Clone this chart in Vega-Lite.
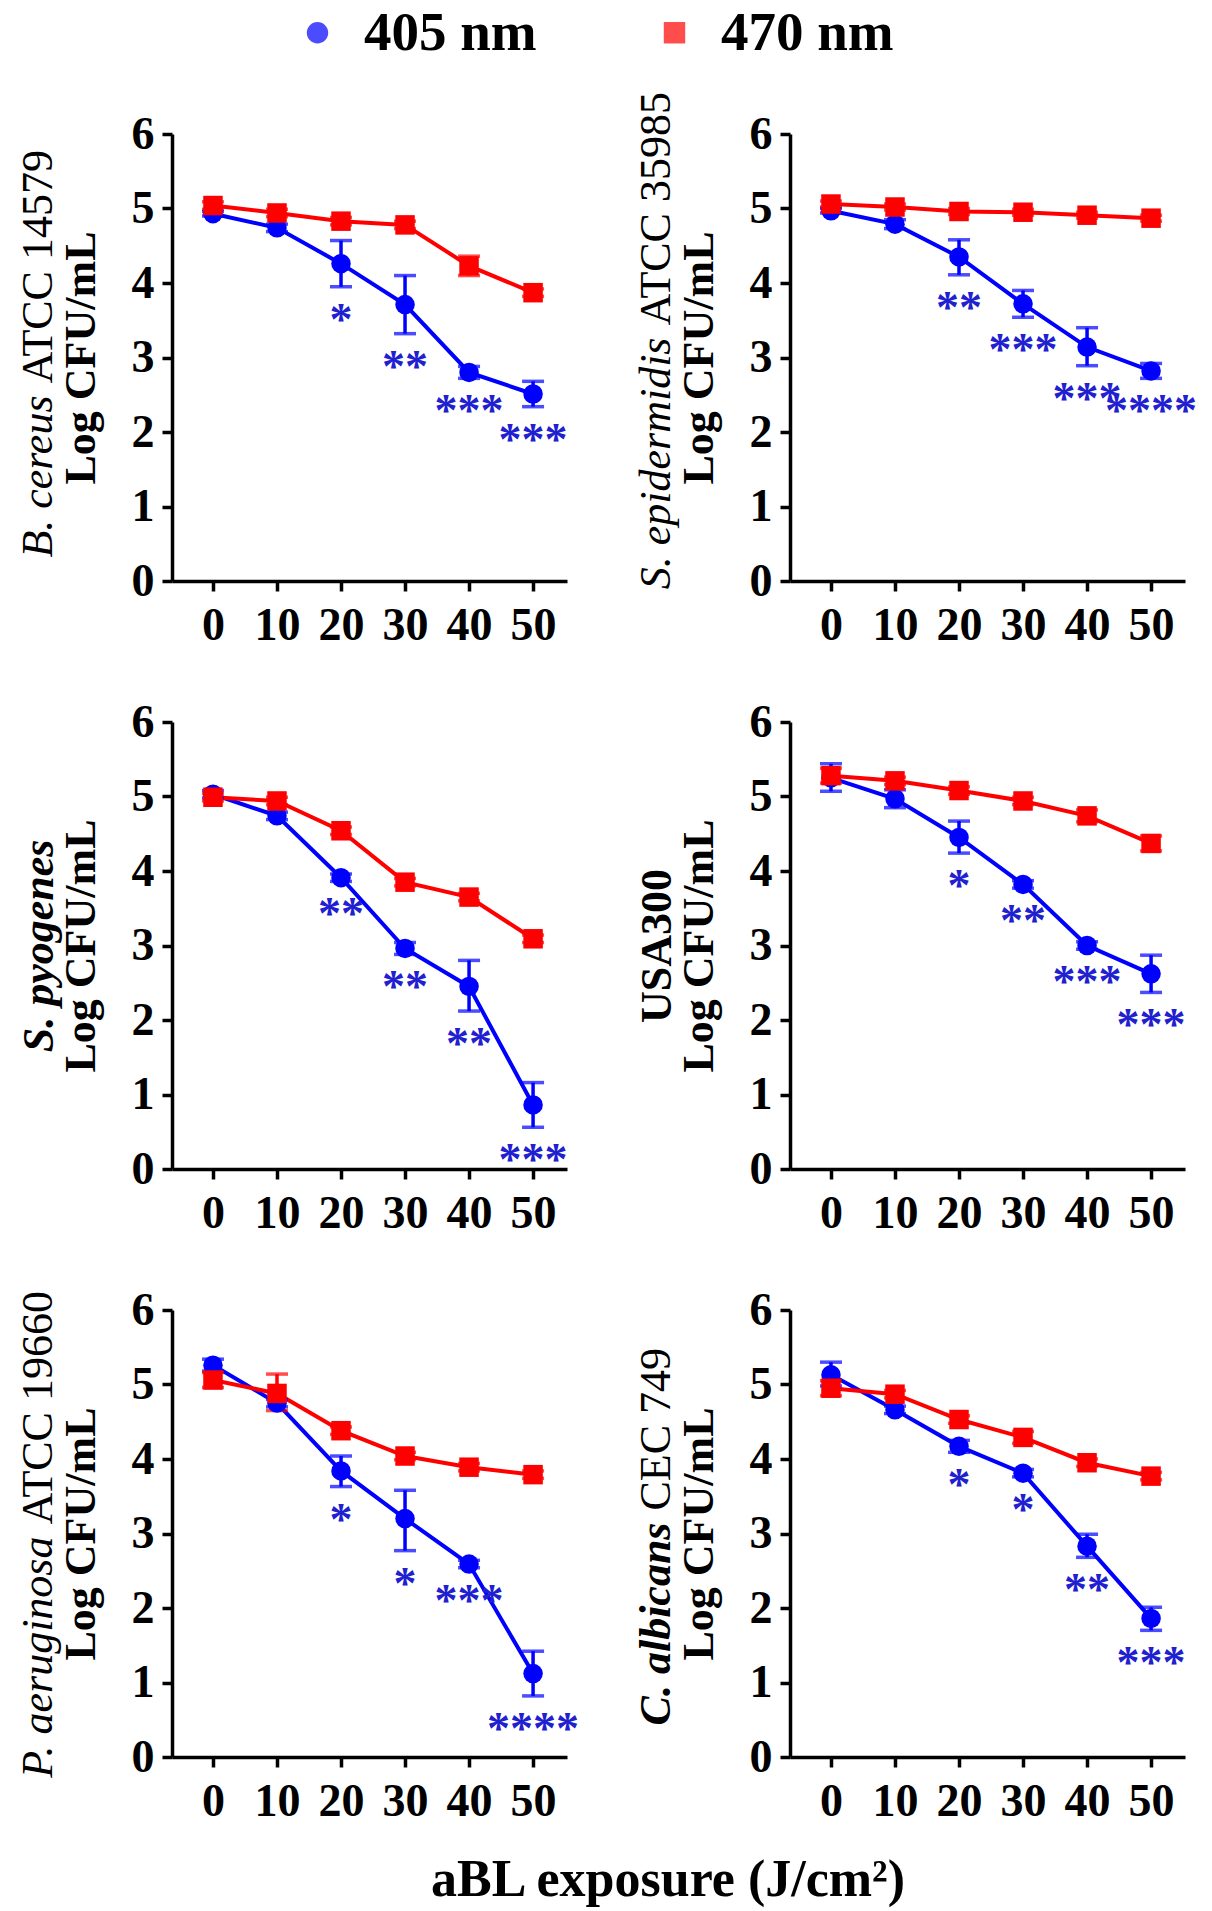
{
  "$schema": "https://vega.github.io/schema/vega-lite/v6.json",
  "background": "white",
  "padding": {"left": -21, "top": 5, "right": 5, "bottom": 5},
  "data": {"values": [
    {"panel":"P1","series":"405 nm","dose":0,"mean":4.93,"lo":4.90,"hi":4.96,"sig":""},
    {"panel":"P1","series":"405 nm","dose":10,"mean":4.74,"lo":4.69,"hi":4.79,"sig":""},
    {"panel":"P1","series":"405 nm","dose":20,"mean":4.26,"lo":3.95,"hi":4.57,"sig":"*"},
    {"panel":"P1","series":"405 nm","dose":30,"mean":3.71,"lo":3.32,"hi":4.10,"sig":"**"},
    {"panel":"P1","series":"405 nm","dose":40,"mean":2.80,"lo":2.72,"hi":2.88,"sig":"***"},
    {"panel":"P1","series":"405 nm","dose":50,"mean":2.51,"lo":2.34,"hi":2.68,"sig":"***"},
    {"panel":"P1","series":"470 nm","dose":0,"mean":5.04,"lo":4.99,"hi":5.09,"sig":""},
    {"panel":"P1","series":"470 nm","dose":10,"mean":4.94,"lo":4.89,"hi":4.99,"sig":""},
    {"panel":"P1","series":"470 nm","dose":20,"mean":4.83,"lo":4.78,"hi":4.88,"sig":""},
    {"panel":"P1","series":"470 nm","dose":30,"mean":4.78,"lo":4.73,"hi":4.83,"sig":""},
    {"panel":"P1","series":"470 nm","dose":40,"mean":4.23,"lo":4.10,"hi":4.36,"sig":""},
    {"panel":"P1","series":"470 nm","dose":50,"mean":3.87,"lo":3.82,"hi":3.92,"sig":""},
    {"panel":"P2","series":"405 nm","dose":0,"mean":4.97,"lo":4.94,"hi":5.00,"sig":""},
    {"panel":"P2","series":"405 nm","dose":10,"mean":4.79,"lo":4.73,"hi":4.85,"sig":""},
    {"panel":"P2","series":"405 nm","dose":20,"mean":4.35,"lo":4.11,"hi":4.58,"sig":"**"},
    {"panel":"P2","series":"405 nm","dose":30,"mean":3.72,"lo":3.54,"hi":3.90,"sig":"***"},
    {"panel":"P2","series":"405 nm","dose":40,"mean":3.14,"lo":2.89,"hi":3.40,"sig":"***"},
    {"panel":"P2","series":"405 nm","dose":50,"mean":2.82,"lo":2.72,"hi":2.92,"sig":"****"},
    {"panel":"P2","series":"470 nm","dose":0,"mean":5.06,"lo":5.02,"hi":5.10,"sig":""},
    {"panel":"P2","series":"470 nm","dose":10,"mean":5.02,"lo":4.98,"hi":5.06,"sig":""},
    {"panel":"P2","series":"470 nm","dose":20,"mean":4.96,"lo":4.92,"hi":5.00,"sig":""},
    {"panel":"P2","series":"470 nm","dose":30,"mean":4.95,"lo":4.91,"hi":4.99,"sig":""},
    {"panel":"P2","series":"470 nm","dose":40,"mean":4.91,"lo":4.87,"hi":4.95,"sig":""},
    {"panel":"P2","series":"470 nm","dose":50,"mean":4.87,"lo":4.83,"hi":4.91,"sig":""},
    {"panel":"P3","series":"405 nm","dose":0,"mean":5.03,"lo":4.98,"hi":5.08,"sig":""},
    {"panel":"P3","series":"405 nm","dose":10,"mean":4.74,"lo":4.69,"hi":4.79,"sig":""},
    {"panel":"P3","series":"405 nm","dose":20,"mean":3.91,"lo":3.86,"hi":3.96,"sig":"**"},
    {"panel":"P3","series":"405 nm","dose":30,"mean":2.96,"lo":2.88,"hi":3.04,"sig":"**"},
    {"panel":"P3","series":"405 nm","dose":40,"mean":2.45,"lo":2.12,"hi":2.80,"sig":"**"},
    {"panel":"P3","series":"405 nm","dose":50,"mean":0.86,"lo":0.56,"hi":1.16,"sig":"***"},
    {"panel":"P3","series":"470 nm","dose":0,"mean":4.99,"lo":4.94,"hi":5.04,"sig":""},
    {"panel":"P3","series":"470 nm","dose":10,"mean":4.94,"lo":4.89,"hi":4.99,"sig":""},
    {"panel":"P3","series":"470 nm","dose":20,"mean":4.54,"lo":4.49,"hi":4.59,"sig":""},
    {"panel":"P3","series":"470 nm","dose":30,"mean":3.85,"lo":3.80,"hi":3.90,"sig":""},
    {"panel":"P3","series":"470 nm","dose":40,"mean":3.65,"lo":3.60,"hi":3.70,"sig":""},
    {"panel":"P3","series":"470 nm","dose":50,"mean":3.09,"lo":3.04,"hi":3.14,"sig":""},
    {"panel":"P4","series":"405 nm","dose":0,"mean":5.25,"lo":5.07,"hi":5.44,"sig":""},
    {"panel":"P4","series":"405 nm","dose":10,"mean":4.97,"lo":4.85,"hi":5.09,"sig":""},
    {"panel":"P4","series":"405 nm","dose":20,"mean":4.45,"lo":4.24,"hi":4.67,"sig":"*"},
    {"panel":"P4","series":"405 nm","dose":30,"mean":3.82,"lo":3.77,"hi":3.87,"sig":"**"},
    {"panel":"P4","series":"405 nm","dose":40,"mean":3.00,"lo":2.95,"hi":3.05,"sig":"***"},
    {"panel":"P4","series":"405 nm","dose":50,"mean":2.62,"lo":2.37,"hi":2.87,"sig":"***"},
    {"panel":"P4","series":"470 nm","dose":0,"mean":5.28,"lo":5.18,"hi":5.38,"sig":""},
    {"panel":"P4","series":"470 nm","dose":10,"mean":5.21,"lo":5.16,"hi":5.26,"sig":""},
    {"panel":"P4","series":"470 nm","dose":20,"mean":5.08,"lo":5.03,"hi":5.13,"sig":""},
    {"panel":"P4","series":"470 nm","dose":30,"mean":4.94,"lo":4.89,"hi":4.99,"sig":""},
    {"panel":"P4","series":"470 nm","dose":40,"mean":4.74,"lo":4.66,"hi":4.82,"sig":""},
    {"panel":"P4","series":"470 nm","dose":50,"mean":4.37,"lo":4.27,"hi":4.47,"sig":""},
    {"panel":"P5","series":"405 nm","dose":0,"mean":5.26,"lo":5.18,"hi":5.34,"sig":""},
    {"panel":"P5","series":"405 nm","dose":10,"mean":4.75,"lo":4.70,"hi":4.80,"sig":""},
    {"panel":"P5","series":"405 nm","dose":20,"mean":3.84,"lo":3.63,"hi":4.04,"sig":"*"},
    {"panel":"P5","series":"405 nm","dose":30,"mean":3.20,"lo":2.77,"hi":3.58,"sig":"*"},
    {"panel":"P5","series":"405 nm","dose":40,"mean":2.59,"lo":2.54,"hi":2.64,"sig":"***"},
    {"panel":"P5","series":"405 nm","dose":50,"mean":1.12,"lo":0.82,"hi":1.42,"sig":"****"},
    {"panel":"P5","series":"470 nm","dose":0,"mean":5.06,"lo":4.96,"hi":5.16,"sig":""},
    {"panel":"P5","series":"470 nm","dose":10,"mean":4.88,"lo":4.65,"hi":5.14,"sig":""},
    {"panel":"P5","series":"470 nm","dose":20,"mean":4.38,"lo":4.33,"hi":4.43,"sig":""},
    {"panel":"P5","series":"470 nm","dose":30,"mean":4.04,"lo":3.99,"hi":4.09,"sig":""},
    {"panel":"P5","series":"470 nm","dose":40,"mean":3.89,"lo":3.84,"hi":3.94,"sig":""},
    {"panel":"P5","series":"470 nm","dose":50,"mean":3.79,"lo":3.74,"hi":3.84,"sig":""},
    {"panel":"P6","series":"405 nm","dose":0,"mean":5.13,"lo":4.98,"hi":5.30,"sig":""},
    {"panel":"P6","series":"405 nm","dose":10,"mean":4.66,"lo":4.61,"hi":4.71,"sig":""},
    {"panel":"P6","series":"405 nm","dose":20,"mean":4.17,"lo":4.09,"hi":4.25,"sig":"*"},
    {"panel":"P6","series":"405 nm","dose":30,"mean":3.81,"lo":3.76,"hi":3.86,"sig":"*"},
    {"panel":"P6","series":"405 nm","dose":40,"mean":2.83,"lo":2.68,"hi":2.99,"sig":"**"},
    {"panel":"P6","series":"405 nm","dose":50,"mean":1.86,"lo":1.70,"hi":2.01,"sig":"***"},
    {"panel":"P6","series":"470 nm","dose":0,"mean":4.95,"lo":4.85,"hi":5.05,"sig":""},
    {"panel":"P6","series":"470 nm","dose":10,"mean":4.87,"lo":4.82,"hi":4.92,"sig":""},
    {"panel":"P6","series":"470 nm","dose":20,"mean":4.53,"lo":4.48,"hi":4.58,"sig":""},
    {"panel":"P6","series":"470 nm","dose":30,"mean":4.29,"lo":4.21,"hi":4.37,"sig":""},
    {"panel":"P6","series":"470 nm","dose":40,"mean":3.95,"lo":3.90,"hi":4.00,"sig":""},
    {"panel":"P6","series":"470 nm","dose":50,"mean":3.77,"lo":3.72,"hi":3.82,"sig":""}
  ]},
  "title": {"text": "aBL exposure (J/cm²)", "orient": "bottom", "anchor": "middle", "frame": "group", "font": "Liberation Serif", "fontSize": 52, "fontWeight": "bold", "color": "#000", "offset": 31, "dx": 496},
  "columns": 2,
  "spacing": {"row": 141, "column": 223},
  "bounds": "flush",
  "resolve": {"scale": {"color": "shared", "shape": "shared"}},
  "concat": [
    {
      "width": 395, "height": 447,
      "transform": [{"filter": "datum.panel === 'P1'"}],
      "resolve": {"axis": {"x": "independent", "y": "independent"}},
      "layer": [
        {"mark": {"type": "line", "strokeWidth": 4},
         "encoding": {
           "x": {"field": "dose", "type": "quantitative", "scale": {"domain": [-6.4, 55.3], "nice": false, "zero": false}, "axis": {"values": [0,10,20,30,40,50], "format": "d", "grid": false, "domainColor": "#000", "domainWidth": 3.5, "tickColor": "#000", "tickWidth": 3.5, "tickSize": 10, "labelFont": "Liberation Serif", "labelFontWeight": "bold", "labelFontSize": 46, "labelColor": "#000", "labelPadding": 12, "labelOverlap": false, "labelFlush": false, "title": null}},
           "y": {"field": "mean", "type": "quantitative", "scale": {"domain": [0, 6], "nice": false}, "axis": {"orient": "left", "values": [0,1,2,3,4,5,6], "format": "d", "grid": false, "domainColor": "#000", "domainWidth": 3.5, "tickColor": "#000", "tickWidth": 3.5, "tickSize": 10, "labelFont": "Liberation Serif", "labelFontWeight": "bold", "labelFontSize": 46, "labelColor": "#000", "labelPadding": 8, "labelOverlap": false, "labelFlush": false, "title": "Log CFU/mL", "titleFont": "Liberation Serif", "titleFontWeight": "bold", "titleFontSize": 44, "titleColor": "#000", "titlePadding": 28}},
           "color": {"field": "series", "type": "nominal", "scale": {"domain": ["405 nm", "470 nm"], "range": ["#0000ff", "#ff0000"]}}
         }},
        {"mark": {"type": "errorbar", "ticks": true, "thickness": 3.5, "size": 22},
         "encoding": {
           "x": {"field": "dose", "type": "quantitative", "axis": null},
           "y": {"field": "lo", "type": "quantitative", "axis": null},
           "y2": {"field": "hi"},
           "color": {"field": "series", "type": "nominal"}
         }},
        {"mark": {"type": "point", "filled": true, "opacity": 1, "size": 380, "strokeWidth": 0},
         "encoding": {
           "x": {"field": "dose", "type": "quantitative", "axis": null},
           "y": {"field": "mean", "type": "quantitative", "axis": {"orient": "left", "labels": false, "ticks": false, "domain": false, "grid": false, "minExtent": 0, "maxExtent": 0, "translate": 38, "title": "B. cereus", "titleFont": "Liberation Serif", "titleFontStyle": "italic", "titleFontWeight": "normal", "titleFontSize": 44, "titleColor": "#000", "titleAlign": "right", "titlePadding": 149}},
           "color": {"field": "series", "type": "nominal", "legend": {"orient": "none", "legendX": 118, "legendY": -129, "direction": "horizontal", "title": null, "labelFont": "Liberation Serif", "labelFontWeight": "bold", "labelFontSize": 55, "labelColor": "#000", "labelLimit": 0, "symbolSize": 460, "labelOffset": 19, "columnPadding": 110, "symbolStrokeWidth": 0, "symbolOpacity": 1}},
           "shape": {"field": "series", "type": "nominal", "scale": {"domain": ["405 nm", "470 nm"], "range": ["circle", "square"]}, "legend": {"orient": "none", "legendX": 118, "legendY": -129, "direction": "horizontal", "title": null, "labelFont": "Liberation Serif", "labelFontWeight": "bold", "labelFontSize": 55, "labelColor": "#000", "labelLimit": 0, "symbolSize": 460, "labelOffset": 19, "columnPadding": 110, "symbolStrokeWidth": 0, "symbolOpacity": 1}}
         }},
        {"mark": {"type": "text", "font": "Liberation Serif", "fontWeight": "bold", "fontSize": 46, "color": "#2020d0", "baseline": "alphabetic", "align": "center", "dy": 48},
         "encoding": {
           "x": {"field": "dose", "type": "quantitative", "axis": null},
           "y": {"field": "lo", "type": "quantitative", "axis": {"orient": "left", "labels": false, "ticks": false, "domain": false, "grid": false, "minExtent": 0, "maxExtent": 0, "translate": 26, "title": "ATCC 14579", "titleFont": "Liberation Serif", "titleFontStyle": "normal", "titleFontWeight": "normal", "titleFontSize": 44, "titleColor": "#000", "titleAlign": "left", "titlePadding": 137}},
           "text": {"field": "sig"}
         }}
      ]
    },
    {
      "width": 395, "height": 447,
      "transform": [{"filter": "datum.panel === 'P2'"}],
      "resolve": {"axis": {"x": "independent", "y": "independent"}},
      "layer": [
        {"mark": {"type": "line", "strokeWidth": 4},
         "encoding": {
           "x": {"field": "dose", "type": "quantitative", "scale": {"domain": [-6.4, 55.3], "nice": false, "zero": false}, "axis": {"values": [0,10,20,30,40,50], "format": "d", "grid": false, "domainColor": "#000", "domainWidth": 3.5, "tickColor": "#000", "tickWidth": 3.5, "tickSize": 10, "labelFont": "Liberation Serif", "labelFontWeight": "bold", "labelFontSize": 46, "labelColor": "#000", "labelPadding": 12, "labelOverlap": false, "labelFlush": false, "title": null}},
           "y": {"field": "mean", "type": "quantitative", "scale": {"domain": [0, 6], "nice": false}, "axis": {"orient": "left", "values": [0,1,2,3,4,5,6], "format": "d", "grid": false, "domainColor": "#000", "domainWidth": 3.5, "tickColor": "#000", "tickWidth": 3.5, "tickSize": 10, "labelFont": "Liberation Serif", "labelFontWeight": "bold", "labelFontSize": 46, "labelColor": "#000", "labelPadding": 8, "labelOverlap": false, "labelFlush": false, "title": "Log CFU/mL", "titleFont": "Liberation Serif", "titleFontWeight": "bold", "titleFontSize": 44, "titleColor": "#000", "titlePadding": 28}},
           "color": {"field": "series", "type": "nominal"}
         }},
        {"mark": {"type": "errorbar", "ticks": true, "thickness": 3.5, "size": 22},
         "encoding": {
           "x": {"field": "dose", "type": "quantitative", "axis": null},
           "y": {"field": "lo", "type": "quantitative", "axis": null},
           "y2": {"field": "hi"},
           "color": {"field": "series", "type": "nominal"}
         }},
        {"mark": {"type": "point", "filled": true, "opacity": 1, "size": 380, "strokeWidth": 0},
         "encoding": {
           "x": {"field": "dose", "type": "quantitative", "axis": null},
           "y": {"field": "mean", "type": "quantitative", "axis": {"orient": "left", "labels": false, "ticks": false, "domain": false, "grid": false, "minExtent": 0, "maxExtent": 0, "translate": -20, "title": "S. epidermidis", "titleFont": "Liberation Serif", "titleFontStyle": "italic", "titleFontWeight": "normal", "titleFontSize": 44, "titleColor": "#000", "titleAlign": "right", "titlePadding": 91}},
           "color": {"field": "series", "type": "nominal"},
           "shape": {"field": "series", "type": "nominal"}
         }},
        {"mark": {"type": "text", "font": "Liberation Serif", "fontWeight": "bold", "fontSize": 46, "color": "#2020d0", "baseline": "alphabetic", "align": "center", "dy": 48},
         "encoding": {
           "x": {"field": "dose", "type": "quantitative", "axis": null},
           "y": {"field": "lo", "type": "quantitative", "axis": {"orient": "left", "labels": false, "ticks": false, "domain": false, "grid": false, "minExtent": 0, "maxExtent": 0, "translate": -32, "title": "ATCC 35985", "titleFont": "Liberation Serif", "titleFontStyle": "normal", "titleFontWeight": "normal", "titleFontSize": 44, "titleColor": "#000", "titleAlign": "left", "titlePadding": 79}},
           "text": {"field": "sig"}
         }}
      ]
    },
    {
      "width": 395, "height": 447,
      "transform": [{"filter": "datum.panel === 'P3'"}],
      "resolve": {"axis": {"x": "independent", "y": "independent"}},
      "layer": [
        {"mark": {"type": "line", "strokeWidth": 4},
         "encoding": {
           "x": {"field": "dose", "type": "quantitative", "scale": {"domain": [-6.4, 55.3], "nice": false, "zero": false}, "axis": {"values": [0,10,20,30,40,50], "format": "d", "grid": false, "domainColor": "#000", "domainWidth": 3.5, "tickColor": "#000", "tickWidth": 3.5, "tickSize": 10, "labelFont": "Liberation Serif", "labelFontWeight": "bold", "labelFontSize": 46, "labelColor": "#000", "labelPadding": 12, "labelOverlap": false, "labelFlush": false, "title": null}},
           "y": {"field": "mean", "type": "quantitative", "scale": {"domain": [0, 6], "nice": false}, "axis": {"orient": "left", "values": [0,1,2,3,4,5,6], "format": "d", "grid": false, "domainColor": "#000", "domainWidth": 3.5, "tickColor": "#000", "tickWidth": 3.5, "tickSize": 10, "labelFont": "Liberation Serif", "labelFontWeight": "bold", "labelFontSize": 46, "labelColor": "#000", "labelPadding": 8, "labelOverlap": false, "labelFlush": false, "title": "Log CFU/mL", "titleFont": "Liberation Serif", "titleFontWeight": "bold", "titleFontSize": 44, "titleColor": "#000", "titlePadding": 28}},
           "color": {"field": "series", "type": "nominal"}
         }},
        {"mark": {"type": "errorbar", "ticks": true, "thickness": 3.5, "size": 22},
         "encoding": {
           "x": {"field": "dose", "type": "quantitative", "axis": null},
           "y": {"field": "lo", "type": "quantitative", "axis": null},
           "y2": {"field": "hi"},
           "color": {"field": "series", "type": "nominal"}
         }},
        {"mark": {"type": "point", "filled": true, "opacity": 1, "size": 380, "strokeWidth": 0},
         "encoding": {
           "x": {"field": "dose", "type": "quantitative", "axis": null},
           "y": {"field": "mean", "type": "quantitative", "axis": {"orient": "left", "labels": false, "ticks": false, "domain": false, "grid": false, "minExtent": 0, "maxExtent": 0, "title": "S. pyogenes", "titleFont": "Liberation Serif", "titleFontStyle": "italic", "titleFontWeight": "bold", "titleFontSize": 44, "titleColor": "#000", "titlePadding": 111}},
           "color": {"field": "series", "type": "nominal"},
           "shape": {"field": "series", "type": "nominal"}
         }},
        {"mark": {"type": "text", "font": "Liberation Serif", "fontWeight": "bold", "fontSize": 46, "color": "#2020d0", "baseline": "alphabetic", "align": "center", "dy": 48},
         "encoding": {
           "x": {"field": "dose", "type": "quantitative", "axis": null},
           "y": {"field": "lo", "type": "quantitative", "axis": null},
           "text": {"field": "sig"}
         }}
      ]
    },
    {
      "width": 395, "height": 447,
      "transform": [{"filter": "datum.panel === 'P4'"}],
      "resolve": {"axis": {"x": "independent", "y": "independent"}},
      "layer": [
        {"mark": {"type": "line", "strokeWidth": 4},
         "encoding": {
           "x": {"field": "dose", "type": "quantitative", "scale": {"domain": [-6.4, 55.3], "nice": false, "zero": false}, "axis": {"values": [0,10,20,30,40,50], "format": "d", "grid": false, "domainColor": "#000", "domainWidth": 3.5, "tickColor": "#000", "tickWidth": 3.5, "tickSize": 10, "labelFont": "Liberation Serif", "labelFontWeight": "bold", "labelFontSize": 46, "labelColor": "#000", "labelPadding": 12, "labelOverlap": false, "labelFlush": false, "title": null}},
           "y": {"field": "mean", "type": "quantitative", "scale": {"domain": [0, 6], "nice": false}, "axis": {"orient": "left", "values": [0,1,2,3,4,5,6], "format": "d", "grid": false, "domainColor": "#000", "domainWidth": 3.5, "tickColor": "#000", "tickWidth": 3.5, "tickSize": 10, "labelFont": "Liberation Serif", "labelFontWeight": "bold", "labelFontSize": 46, "labelColor": "#000", "labelPadding": 8, "labelOverlap": false, "labelFlush": false, "title": "Log CFU/mL", "titleFont": "Liberation Serif", "titleFontWeight": "bold", "titleFontSize": 44, "titleColor": "#000", "titlePadding": 28}},
           "color": {"field": "series", "type": "nominal"}
         }},
        {"mark": {"type": "errorbar", "ticks": true, "thickness": 3.5, "size": 22},
         "encoding": {
           "x": {"field": "dose", "type": "quantitative", "axis": null},
           "y": {"field": "lo", "type": "quantitative", "axis": null},
           "y2": {"field": "hi"},
           "color": {"field": "series", "type": "nominal"}
         }},
        {"mark": {"type": "point", "filled": true, "opacity": 1, "size": 380, "strokeWidth": 0},
         "encoding": {
           "x": {"field": "dose", "type": "quantitative", "axis": null},
           "y": {"field": "mean", "type": "quantitative", "axis": {"orient": "left", "labels": false, "ticks": false, "domain": false, "grid": false, "minExtent": 0, "maxExtent": 0, "title": "USA300", "titleFont": "Liberation Serif", "titleFontStyle": "normal", "titleFontWeight": "bold", "titleFontSize": 44, "titleColor": "#000", "titlePadding": 111}},
           "color": {"field": "series", "type": "nominal"},
           "shape": {"field": "series", "type": "nominal"}
         }},
        {"mark": {"type": "text", "font": "Liberation Serif", "fontWeight": "bold", "fontSize": 46, "color": "#2020d0", "baseline": "alphabetic", "align": "center", "dy": 48},
         "encoding": {
           "x": {"field": "dose", "type": "quantitative", "axis": null},
           "y": {"field": "lo", "type": "quantitative", "axis": null},
           "text": {"field": "sig"}
         }}
      ]
    },
    {
      "width": 395, "height": 447,
      "transform": [{"filter": "datum.panel === 'P5'"}],
      "resolve": {"axis": {"x": "independent", "y": "independent"}},
      "layer": [
        {"mark": {"type": "line", "strokeWidth": 4},
         "encoding": {
           "x": {"field": "dose", "type": "quantitative", "scale": {"domain": [-6.4, 55.3], "nice": false, "zero": false}, "axis": {"values": [0,10,20,30,40,50], "format": "d", "grid": false, "domainColor": "#000", "domainWidth": 3.5, "tickColor": "#000", "tickWidth": 3.5, "tickSize": 10, "labelFont": "Liberation Serif", "labelFontWeight": "bold", "labelFontSize": 46, "labelColor": "#000", "labelPadding": 12, "labelOverlap": false, "labelFlush": false, "title": null}},
           "y": {"field": "mean", "type": "quantitative", "scale": {"domain": [0, 6], "nice": false}, "axis": {"orient": "left", "values": [0,1,2,3,4,5,6], "format": "d", "grid": false, "domainColor": "#000", "domainWidth": 3.5, "tickColor": "#000", "tickWidth": 3.5, "tickSize": 10, "labelFont": "Liberation Serif", "labelFontWeight": "bold", "labelFontSize": 46, "labelColor": "#000", "labelPadding": 8, "labelOverlap": false, "labelFlush": false, "title": "Log CFU/mL", "titleFont": "Liberation Serif", "titleFontWeight": "bold", "titleFontSize": 44, "titleColor": "#000", "titlePadding": 28}},
           "color": {"field": "series", "type": "nominal"}
         }},
        {"mark": {"type": "errorbar", "ticks": true, "thickness": 3.5, "size": 22},
         "encoding": {
           "x": {"field": "dose", "type": "quantitative", "axis": null},
           "y": {"field": "lo", "type": "quantitative", "axis": null},
           "y2": {"field": "hi"},
           "color": {"field": "series", "type": "nominal"}
         }},
        {"mark": {"type": "point", "filled": true, "opacity": 1, "size": 380, "strokeWidth": 0},
         "encoding": {
           "x": {"field": "dose", "type": "quantitative", "axis": null},
           "y": {"field": "mean", "type": "quantitative", "axis": {"orient": "left", "labels": false, "ticks": false, "domain": false, "grid": false, "minExtent": 0, "maxExtent": 0, "translate": 3, "title": "P. aeruginosa", "titleFont": "Liberation Serif", "titleFontStyle": "italic", "titleFontWeight": "normal", "titleFontSize": 44, "titleColor": "#000", "titleAlign": "right", "titlePadding": 114}},
           "color": {"field": "series", "type": "nominal"},
           "shape": {"field": "series", "type": "nominal"}
         }},
        {"mark": {"type": "text", "font": "Liberation Serif", "fontWeight": "bold", "fontSize": 46, "color": "#2020d0", "baseline": "alphabetic", "align": "center", "dy": 48},
         "encoding": {
           "x": {"field": "dose", "type": "quantitative", "axis": null},
           "y": {"field": "lo", "type": "quantitative", "axis": {"orient": "left", "labels": false, "ticks": false, "domain": false, "grid": false, "minExtent": 0, "maxExtent": 0, "translate": -9, "title": "ATCC 19660", "titleFont": "Liberation Serif", "titleFontStyle": "normal", "titleFontWeight": "normal", "titleFontSize": 44, "titleColor": "#000", "titleAlign": "left", "titlePadding": 102}},
           "text": {"field": "sig"}
         }}
      ]
    },
    {
      "width": 395, "height": 447,
      "transform": [{"filter": "datum.panel === 'P6'"}],
      "resolve": {"axis": {"x": "independent", "y": "independent"}},
      "layer": [
        {"mark": {"type": "line", "strokeWidth": 4},
         "encoding": {
           "x": {"field": "dose", "type": "quantitative", "scale": {"domain": [-6.4, 55.3], "nice": false, "zero": false}, "axis": {"values": [0,10,20,30,40,50], "format": "d", "grid": false, "domainColor": "#000", "domainWidth": 3.5, "tickColor": "#000", "tickWidth": 3.5, "tickSize": 10, "labelFont": "Liberation Serif", "labelFontWeight": "bold", "labelFontSize": 46, "labelColor": "#000", "labelPadding": 12, "labelOverlap": false, "labelFlush": false, "title": null}},
           "y": {"field": "mean", "type": "quantitative", "scale": {"domain": [0, 6], "nice": false}, "axis": {"orient": "left", "values": [0,1,2,3,4,5,6], "format": "d", "grid": false, "domainColor": "#000", "domainWidth": 3.5, "tickColor": "#000", "tickWidth": 3.5, "tickSize": 10, "labelFont": "Liberation Serif", "labelFontWeight": "bold", "labelFontSize": 46, "labelColor": "#000", "labelPadding": 8, "labelOverlap": false, "labelFlush": false, "title": "Log CFU/mL", "titleFont": "Liberation Serif", "titleFontWeight": "bold", "titleFontSize": 44, "titleColor": "#000", "titlePadding": 28}},
           "color": {"field": "series", "type": "nominal"}
         }},
        {"mark": {"type": "errorbar", "ticks": true, "thickness": 3.5, "size": 22},
         "encoding": {
           "x": {"field": "dose", "type": "quantitative", "axis": null},
           "y": {"field": "lo", "type": "quantitative", "axis": null},
           "y2": {"field": "hi"},
           "color": {"field": "series", "type": "nominal"}
         }},
        {"mark": {"type": "point", "filled": true, "opacity": 1, "size": 380, "strokeWidth": 0},
         "encoding": {
           "x": {"field": "dose", "type": "quantitative", "axis": null},
           "y": {"field": "mean", "type": "quantitative", "axis": {"orient": "left", "labels": false, "ticks": false, "domain": false, "grid": false, "minExtent": 0, "maxExtent": 0, "translate": -11, "title": "C. albicans", "titleFont": "Liberation Serif", "titleFontStyle": "italic", "titleFontWeight": "bold", "titleFontSize": 44, "titleColor": "#000", "titleAlign": "right", "titlePadding": 100}},
           "color": {"field": "series", "type": "nominal"},
           "shape": {"field": "series", "type": "nominal"}
         }},
        {"mark": {"type": "text", "font": "Liberation Serif", "fontWeight": "bold", "fontSize": 46, "color": "#2020d0", "baseline": "alphabetic", "align": "center", "dy": 48},
         "encoding": {
           "x": {"field": "dose", "type": "quantitative", "axis": null},
           "y": {"field": "lo", "type": "quantitative", "axis": {"orient": "left", "labels": false, "ticks": false, "domain": false, "grid": false, "minExtent": 0, "maxExtent": 0, "translate": -23, "title": "CEC 749", "titleFont": "Liberation Serif", "titleFontStyle": "normal", "titleFontWeight": "normal", "titleFontSize": 44, "titleColor": "#000", "titleAlign": "left", "titlePadding": 88}},
           "text": {"field": "sig"}
         }}
      ]
    }
  ],
  "config": {
    "view": {"stroke": null},
    "axis": {"grid": false}
  }
}
